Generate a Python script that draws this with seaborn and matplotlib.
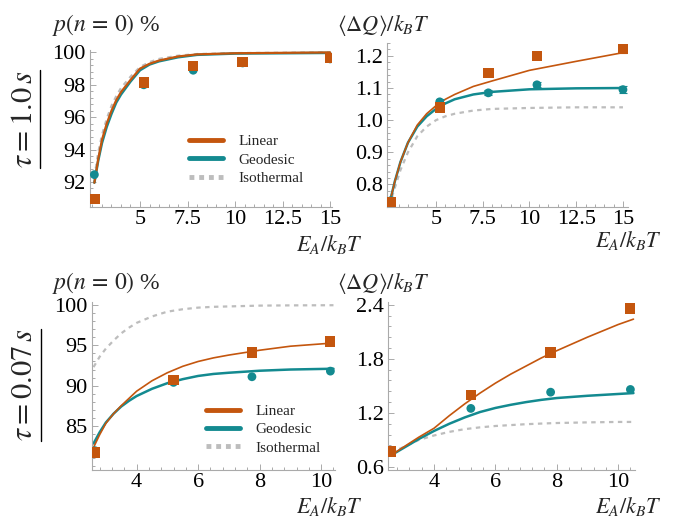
import matplotlib
matplotlib.use("Agg")
import matplotlib.pyplot as plt
from matplotlib.lines import Line2D
from matplotlib.ticker import AutoMinorLocator, MultipleLocator
import seaborn as sns

# ---- data ----
# tau = 1.0 s, probability panel
tl_curve_x = [2.6, 2.8, 3.0, 3.25, 3.5, 3.75, 4.0, 4.5, 5.0, 5.5, 6.0, 7.0, 8.0, 10.0, 15.0]
tl_linear = [91.95, 93.4, 94.6, 95.6, 96.4, 97.05, 97.55, 98.3, 99.0, 99.3, 99.5, 99.75, 99.88, 99.95, 100.0]
tl_geodesic = [91.95, 93.3, 94.4, 95.4, 96.2, 96.9, 97.4, 98.2, 98.9, 99.25, 99.45, 99.7, 99.85, 99.93, 99.97]
tl_isothermal = [92.3, 93.8, 94.9, 95.9, 96.7, 97.3, 97.8, 98.5, 99.1, 99.4, 99.6, 99.8, 99.9, 99.96, 100.0]
tl_pts_x = [2.6, 5.2, 7.8, 10.4, 15.0]
tl_pts_linear = [90.95, 98.15, 99.15, 99.4, 99.65]
tl_pts_geodesic = [92.45, 98.0, 98.9, 99.35, 99.6]

# tau = 1.0 s, heat panel
tr_curve_x = [2.5, 2.8, 3.1, 3.5, 4.0, 4.5, 5.0, 5.5, 6.0, 7.0, 8.0, 10.0, 12.5, 15.0]
tr_linear = [0.738, 0.81, 0.87, 0.93, 0.985, 1.02, 1.045, 1.065, 1.08, 1.105, 1.122, 1.155, 1.183, 1.21]
tr_geodesic = [0.738, 0.81, 0.87, 0.93, 0.98, 1.012, 1.035, 1.052, 1.065, 1.08, 1.088, 1.096, 1.099, 1.10]
tr_isothermal = [0.735, 0.79, 0.845, 0.9, 0.95, 0.98, 1.0, 1.012, 1.02, 1.03, 1.035, 1.038, 1.04, 1.04]
tr_pts_x = [2.6, 5.2, 7.8, 10.4, 15.0]
tr_pts_linear = [0.745, 1.04, 1.147, 1.2, 1.222]
tr_err_linear = [0.008, 0.008, 0.01, 0.008, 0.012]
tr_pts_geodesic = [0.75, 1.057, 1.085, 1.11, 1.095]
tr_err_geodesic = [0.008, 0.01, 0.008, 0.008, 0.01]

# tau = 0.07 s, probability panel
bl_curve_x = [2.6, 2.8, 3.0, 3.25, 3.5, 3.75, 4.0, 4.5, 5.0, 5.5, 6.0, 6.5, 7.0, 8.0, 9.0, 10.4]
bl_linear = [82.3, 83.9, 85.3, 86.5, 87.5, 88.4, 89.3, 90.6, 91.6, 92.4, 93.0, 93.45, 93.8, 94.4, 94.9, 95.3]
bl_geodesic = [82.8, 84.2, 85.4, 86.5, 87.4, 88.1, 88.7, 89.6, 90.3, 90.8, 91.2, 91.45, 91.6, 91.85, 92.0, 92.1]
bl_isothermal = [92.3, 93.6, 94.6, 95.6, 96.5, 97.2, 97.8, 98.6, 99.2, 99.5, 99.7, 99.8, 99.85, 99.95, 99.98, 100.0]
bl_pts_x = [2.65, 5.2, 7.75, 10.3]
bl_pts_linear = [81.7, 90.7, 94.1, 95.5]
bl_pts_geodesic = [81.9, 90.4, 91.1, 91.8]

# tau = 0.07 s, heat panel
br_curve_x = [2.6, 3.0, 3.5, 4.0, 4.5, 5.0, 5.5, 6.0, 6.5, 7.0, 7.5, 8.0, 9.0, 10.0, 10.5]
br_linear = [0.73, 0.82, 0.93, 1.03, 1.17, 1.30, 1.42, 1.53, 1.63, 1.72, 1.81, 1.89, 2.04, 2.18, 2.24]
br_geodesic = [0.73, 0.81, 0.91, 1.0, 1.08, 1.15, 1.21, 1.255, 1.29, 1.32, 1.345, 1.365, 1.39, 1.41, 1.42]
br_isothermal = [0.76, 0.82, 0.90, 0.95, 0.99, 1.02, 1.04, 1.055, 1.065, 1.075, 1.082, 1.088, 1.095, 1.10, 1.10]
br_pts_x = [2.6, 5.2, 7.8, 10.4]
br_pts_linear = [0.77, 1.40, 1.87, 2.36]
br_pts_geodesic = [0.76, 1.25, 1.43, 1.46]

ORANGE = "#C4560E"
TEAL = "#138A90"
GRAY = "#BDBDBD"
AXC = "#AAAAAA"

sns.set_style("ticks")
plt.rcParams["font.family"] = ["Liberation Serif", "DejaVu Serif"]
plt.rcParams["mathtext.fontset"] = "stix"


def style_axes(ax, xmaj, ymaj):
    sns.despine(ax=ax)
    for s in ("left", "bottom"):
        ax.spines[s].set_color(AXC)
        ax.spines[s].set_linewidth(0.8)
    ax.xaxis.set_major_locator(MultipleLocator(xmaj))
    ax.yaxis.set_major_locator(MultipleLocator(ymaj))
    ax.xaxis.set_minor_locator(AutoMinorLocator(5))
    ax.yaxis.set_minor_locator(AutoMinorLocator(5))
    ax.tick_params(which="both", direction="in", color=AXC, width=0.7,
                   labelsize=16, labelcolor="black")
    ax.tick_params(which="major", length=4.5)
    ax.tick_params(which="minor", length=2.5)
    ax.tick_params(axis="y", pad=3)
    ax.tick_params(axis="x", pad=2)


def draw_panel(ax, cx, lin, geo, iso, px, plin, pgeo, lw_lin, errs=None):
    sns.lineplot(x=cx, y=iso, ax=ax, color=GRAY, lw=1.6, linestyle=(0, (2, 2)),
                 estimator=None, sort=False)
    sns.lineplot(x=cx, y=geo, ax=ax, color=TEAL, lw=1.8, estimator=None, sort=False)
    sns.lineplot(x=cx, y=lin, ax=ax, color=ORANGE, lw=lw_lin, estimator=None, sort=False)
    if errs is not None:
        ax.errorbar(px, pgeo, yerr=errs[1], fmt="none", ecolor=TEAL, elinewidth=0.8,
                    capsize=3, capthick=0.8, zorder=3)
        ax.errorbar(px, plin, yerr=errs[0], fmt="none", ecolor=ORANGE, elinewidth=0.8,
                    capsize=3, capthick=0.8, zorder=3)
    sns.scatterplot(x=px, y=pgeo, ax=ax, color=TEAL, marker="o", s=40,
                    edgecolor="none", zorder=4)
    sns.scatterplot(x=px, y=plin, ax=ax, color=ORANGE, marker="s", s=56,
                    edgecolor="none", zorder=5)


fig = plt.figure(figsize=(6.73, 5.21), dpi=100)
W, H = 673.0, 521.0


def px_axes(left, top, right, bottom):
    return fig.add_axes([left / W, 1 - bottom / H, (right - left) / W, (bottom - top) / H])


ax_tl = px_axes(90, 50, 332, 207)
ax_tr = px_axes(387, 43, 628, 207)
ax_bl = px_axes(92, 302, 335, 470)
ax_br = px_axes(388, 302, 635, 470)

draw_panel(ax_tl, tl_curve_x, tl_linear, tl_geodesic, tl_isothermal,
           tl_pts_x, tl_pts_linear, tl_pts_geodesic, lw_lin=1.6)
draw_panel(ax_tr, tr_curve_x, tr_linear, tr_geodesic, tr_isothermal,
           tr_pts_x, tr_pts_linear, tr_pts_geodesic, lw_lin=1.2,
           errs=(tr_err_linear, tr_err_geodesic))
draw_panel(ax_bl, bl_curve_x, bl_linear, bl_geodesic, bl_isothermal,
           bl_pts_x, bl_pts_linear, bl_pts_geodesic, lw_lin=1.2)
draw_panel(ax_br, br_curve_x, br_linear, br_geodesic, br_isothermal,
           br_pts_x, br_pts_linear, br_pts_geodesic, lw_lin=1.2)

ax_tl.set_xlim(2.37, 15.1)
ax_tl.set_ylim(90.45, 100.15)
style_axes(ax_tl, 2.5, 2)
ax_tl.set_xticks([5, 7.5, 10, 12.5, 15])
ax_tl.set_xticklabels(["5", "7.5", "10", "12.5", "15"])

ax_tr.set_xlim(2.38, 15.27)
ax_tr.set_ylim(0.73, 1.24)
style_axes(ax_tr, 2.5, 0.1)
ax_tr.set_xticks([5, 7.5, 10, 12.5, 15])
ax_tr.set_xticklabels(["5", "7.5", "10", "12.5", "15"])
ax_tr.set_yticks([0.8, 0.9, 1.0, 1.1, 1.2])
ax_tr.set_yticklabels(["0.8", "0.9", "1.0", "1.1", "1.2"])

ax_bl.set_xlim(2.55, 10.45)
ax_bl.set_ylim(79.5, 100.4)
style_axes(ax_bl, 2, 5)
ax_bl.set_yticks([85, 90, 95, 100])

ax_br.set_xlim(2.5, 10.55)
ax_br.set_ylim(0.567, 2.43)
style_axes(ax_br, 2, 0.6)
ax_br.set_yticks([0.6, 1.2, 1.8, 2.4])
ax_br.set_yticklabels(["0.6", "1.2", "1.8", "2.4"])

for ax in (ax_tl, ax_tr, ax_bl, ax_br):
    ax.set_xlabel("")
    ax.set_ylabel("")

# panel titles and axis labels
prob_label = r"$p(n\,=\,0)$ %"
heat_label = r"$\langle \Delta Q\rangle / k_B T$"
x_label = r"$E_A / k_B T$"
fig.text(52 / W, 1 - 25 / H, prob_label, fontsize=17, va="center", ha="left")
fig.text(337 / W, 1 - 25 / H, heat_label, fontsize=16, va="center", ha="left")
fig.text(52 / W, 1 - 283 / H, prob_label, fontsize=17, va="center", ha="left")
fig.text(337 / W, 1 - 283 / H, heat_label, fontsize=16, va="center", ha="left")
fig.text(363 / W, 1 - 245 / H, x_label, fontsize=16, va="center", ha="right")
fig.text(662 / W, 1 - 240 / H, x_label, fontsize=16, va="center", ha="right")
fig.text(363 / W, 1 - 507 / H, x_label, fontsize=16, va="center", ha="right")
fig.text(662 / W, 1 - 507 / H, x_label, fontsize=16, va="center", ha="right")

# row labels, underlined (mathtext has no \underline, so draw the rule)
row_texts = [
    fig.text(24 / W, 1 - 119 / H, r"$\tau = 1.0\,s$", fontsize=22,
             rotation=90, va="center", ha="center"),
    fig.text(25 / W, 1 - 385 / H, r"$\tau = 0.07\,s$", fontsize=22,
             rotation=90, va="center", ha="center"),
]
fig.canvas.draw()
inv = fig.transFigure.inverted()
for t in row_texts:
    bb = t.get_window_extent().transformed(inv)
    fig.add_artist(Line2D([bb.x1 + 1 / W] * 2, [bb.y0, bb.y1], color="black",
                          lw=1.0, transform=fig.transFigure))

# legends
handles = [Line2D([], [], color=ORANGE, lw=3.5),
           Line2D([], [], color=TEAL, lw=3.5),
           Line2D([], [], color=GRAY, lw=3.5, linestyle=(0, (1, 1)))]
labels = ["Linear", "Geodesic", "Isothermal"]
for ax, anchor in ((ax_tl, (0.41, 0.46)), (ax_bl, (0.47, 0.39))):
    ax.legend(handles, labels, loc="upper left", bbox_to_anchor=anchor, frameon=False,
              fontsize=11, handlelength=2.2, handletextpad=1.0, labelspacing=0.3,
              borderpad=0, borderaxespad=0)

plt.savefig("out.png", dpi=100)
plt.close("all")
